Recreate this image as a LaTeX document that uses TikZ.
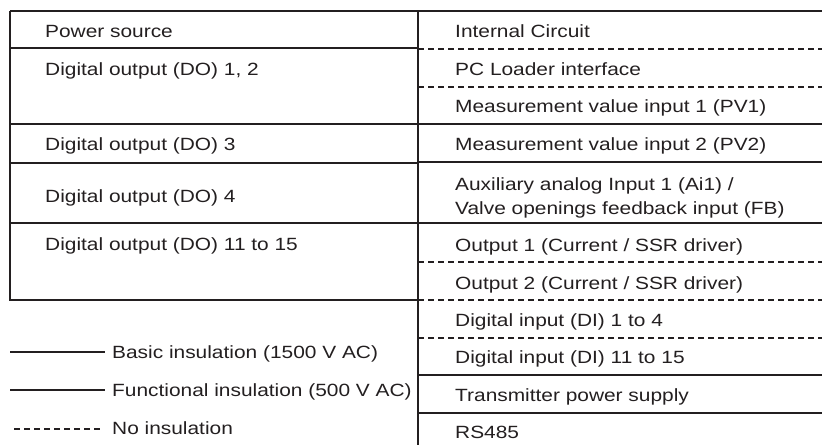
\documentclass[tikz,border=0pt]{standalone}
\usepackage{fontspec}
\setmainfont[FakeStretch=1.18]{Liberation Sans}
\definecolor{ink}{HTML}{231F20}
\tikzset{
  basic/.style={line width=2.8pt, draw=ink},
  func/.style={line width=1.4pt, draw=ink},
  noins/.style={line width=1.1pt, draw=ink, dash pattern=on 5.5pt off 4.5pt},
  lbl/.style={anchor=base west, inner sep=0pt, text=ink, font=\fontsize{17.7}{23.5}\selectfont, align=left}
}
\begin{document}
\begin{tikzpicture}[x=1pt,y=-1pt]
\useasboundingbox (0,0) rectangle (822,445);
% right column lines
\draw[noins] (418,49) -- (822,49);
\draw[noins] (418,87) -- (822,87);
\draw[func] (418,124) -- (822,124);
\draw[func] (418,162) -- (822,162);
\draw[func] (418,223) -- (822,223);
\draw[noins] (418,262) -- (822,262);
\draw[noins] (418,300) -- (822,300);
\draw[noins] (418,338) -- (822,338);
\draw[func] (418,375) -- (822,375);
\draw[func] (418,413) -- (822,413);
% left box
\draw[basic] (10,11) -- (822,11);
\draw[basic] (10,11) -- (10,300) -- (418,300);
\draw[basic] (10,48) -- (418,48);
\draw[basic] (10,124) -- (418,124);
\draw[basic] (10,163) -- (418,163);
\draw[basic] (10,223) -- (418,223);
\draw[basic] (418,11) -- (418,445);
% left texts
\node[lbl] (ps) at (45,37) {Power source};
\node[lbl] (do12) at (45,75) {Digital output (DO) 1, 2};
\node[lbl] (do3) at (45,150) {Digital output (DO) 3};
\node[lbl] (do4) at (45,202) {Digital output (DO) 4};
\node[lbl] (do11) at (45,250) {Digital output (DO) 11 to 15};
% right texts
\node[lbl] (ic) at (455,37) {Internal Circuit};
\node[lbl] (pc) at (455,75) {PC Loader interface};
\node[lbl] (pv1) at (455,112) {Measurement value input 1 (PV1)};
\node[lbl] (pv2) at (455,150) {Measurement value input 2 (PV2)};
\node[lbl] (ai1) at (455,214) {Auxiliary analog Input 1 (Ai1) /\\Valve openings feedback input (FB)};
\node[lbl] (o1) at (455,251) {Output 1 (Current / SSR driver)};
\node[lbl] (o2) at (455,289) {Output 2 (Current / SSR driver)};
\node[lbl] (di1) at (455,326) {Digital input (DI) 1 to 4};
\node[lbl] (di11) at (455,363) {Digital input (DI) 11 to 15};
\node[lbl] (tps) at (455,401) {Transmitter power supply};
\node[lbl] (rs) at (455,438) {RS485};
% legend
\node[lbl] (lb) at (112,358) {Basic insulation (1500 V AC)};
\node[lbl] (lf) at (112,396) {Functional insulation (500 V AC)};
\node[lbl] (ln) at (112,434) {No insulation};
\coordinate (cb) at (10,352);
\coordinate (cf) at (10,390);
\coordinate (cn) at (14,429);
\draw[basic] (cb) -- ++(95,0);
\draw[func] (cf) -- ++(95,0);
\draw[noins] (cn) -- ++(90,0);
\end{tikzpicture}
\end{document}
